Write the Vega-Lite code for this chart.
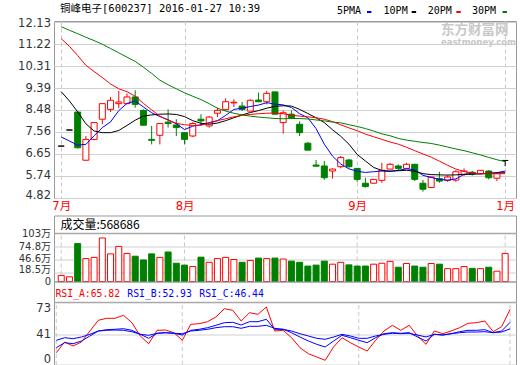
{
  "$schema": "https://vega.github.io/schema/vega-lite/v6.json",
  "background": "#ffffff",
  "padding": {"left": 17, "top": 3, "right": 0, "bottom": 0},
  "bounds": "flush",
  "spacing": 17.5,
  "config": {
    "view": {"stroke": "#999999", "strokeWidth": 1},
    "axis": {"ticks": false, "domain": false, "labelColor": "#333333", "labelFont": "DejaVu Sans", "labelFontSize": 11.5, "labelPadding": 3.5, "labelOverlap": false, "gridColor": "#d0d0d0"}
  },
  "datasets": {
    "k": [
      {"i":0,"o":6.97,"h":6.97,"l":6.97,"c":6.97,"v":13,"m5":7.35,"m10":9.24,"m20":11.45,"m30":11.95,"ra":22.6,"rb":27.6,"rc":35},
      {"i":1,"o":7.64,"h":7.64,"l":7.64,"c":7.64,"v":10,"m5":7.18,"m10":8.85,"m20":11.13,"m30":11.80,"ra":33.3,"rb":32.6,"rc":37.6},
      {"i":2,"o":8.39,"h":8.40,"l":6.87,"c":6.90,"v":81,"m5":7.01,"m10":8.40,"m20":10.75,"m30":11.66,"ra":29.3,"rb":31.6,"rc":36.6},
      {"i":3,"o":6.38,"h":7.39,"l":6.38,"c":7.25,"v":49,"m5":7.04,"m10":7.90,"m20":10.34,"m30":11.51,"ra":33.3,"rb":34.3,"rc":38.3},
      {"i":4,"o":7.25,"h":7.95,"l":7.21,"c":7.95,"v":51.5,"m5":7.40,"m10":7.60,"m20":10.08,"m30":11.37,"ra":44.3,"rb":39.3,"rc":41},
      {"i":5,"o":8.09,"h":8.74,"l":7.88,"c":8.74,"v":93,"m5":7.74,"m10":7.53,"m20":9.83,"m30":11.22,"ra":55,"rb":44.3,"rc":44.3},
      {"i":6,"o":8.50,"h":9.02,"l":8.39,"c":8.88,"v":59,"m5":7.98,"m10":7.53,"m20":9.56,"m30":11.04,"ra":57,"rb":45.6,"rc":45},
      {"i":7,"o":8.74,"h":9.27,"l":8.55,"c":8.81,"v":75,"m5":8.45,"m10":7.62,"m20":9.36,"m30":10.86,"ra":57,"rb":46,"rc":45.3},
      {"i":8,"o":8.74,"h":9.16,"l":8.72,"c":9.02,"v":60,"m5":8.75,"m10":7.83,"m20":9.24,"m30":10.68,"ra":60,"rb":46.6,"rc":45},
      {"i":9,"o":9.02,"h":9.30,"l":8.57,"c":8.71,"v":54,"m5":8.85,"m10":8.05,"m20":9.05,"m30":10.50,"ra":52.6,"rb":45,"rc":43.6},
      {"i":10,"o":8.46,"h":8.50,"l":7.84,"c":7.84,"v":46,"m5":8.60,"m10":8.22,"m20":8.75,"m30":10.26,"ra":39.3,"rb":41,"rc":41},
      {"i":11,"o":7.25,"h":7.81,"l":7.04,"c":7.21,"v":59,"m5":8.36,"m10":8.27,"m20":8.48,"m30":10.00,"ra":31.6,"rb":37,"rc":40},
      {"i":12,"o":7.42,"h":7.93,"l":7.04,"c":7.91,"v":51.5,"m5":8.20,"m10":8.30,"m20":8.22,"m30":9.72,"ra":45,"rb":42,"rc":42},
      {"i":13,"o":7.97,"h":8.50,"l":7.74,"c":7.91,"v":63,"m5":8.07,"m10":8.31,"m20":8.05,"m30":9.53,"ra":45.3,"rb":42.6,"rc":42.6},
      {"i":14,"o":7.85,"h":8.09,"l":7.39,"c":7.74,"v":39,"m5":7.90,"m10":8.29,"m20":7.92,"m30":9.36,"ra":42.6,"rb":42,"rc":42},
      {"i":15,"o":7.53,"h":7.55,"l":7.04,"c":7.25,"v":35,"m5":7.66,"m10":8.20,"m20":7.86,"m30":9.19,"ra":35,"rb":40.3,"rc":41.6},
      {"i":16,"o":7.39,"h":7.97,"l":7.35,"c":7.91,"v":32,"m5":7.80,"m10":8.03,"m20":7.83,"m30":9.05,"ra":51,"rb":45,"rc":44.3},
      {"i":17,"o":8.09,"h":8.30,"l":7.84,"c":8.02,"v":52,"m5":7.86,"m10":7.92,"m20":7.84,"m30":8.91,"ra":51.6,"rb":46,"rc":45},
      {"i":18,"o":7.81,"h":8.23,"l":7.74,"c":8.18,"v":41,"m5":7.95,"m10":7.88,"m20":7.92,"m30":8.74,"ra":53.6,"rb":47.6,"rc":46},
      {"i":19,"o":8.34,"h":8.57,"l":8.18,"c":8.46,"v":49,"m5":8.03,"m10":7.93,"m20":8.03,"m30":8.55,"ra":58.3,"rb":50,"rc":47.6},
      {"i":20,"o":8.49,"h":8.96,"l":8.45,"c":8.82,"v":51.5,"m5":8.25,"m10":8.03,"m20":8.11,"m30":8.43,"ra":66.6,"rb":52.6,"rc":48.6},
      {"i":21,"o":8.77,"h":8.92,"l":8.60,"c":8.80,"v":47,"m5":8.50,"m10":8.15,"m20":8.19,"m30":8.34,"ra":65,"rb":53,"rc":48.6},
      {"i":22,"o":8.64,"h":8.81,"l":8.43,"c":8.50,"v":41,"m5":8.55,"m10":8.27,"m20":8.25,"m30":8.27,"ra":54.3,"rb":50.3,"rc":47},
      {"i":23,"o":8.43,"h":8.92,"l":8.43,"c":8.88,"v":45,"m5":8.62,"m10":8.37,"m20":8.29,"m30":8.22,"ra":62.6,"rb":53.6,"rc":49},
      {"i":24,"o":8.89,"h":9.20,"l":8.80,"c":8.82,"v":50,"m5":8.68,"m10":8.45,"m20":8.32,"m30":8.18,"ra":61,"rb":53.6,"rc":49},
      {"i":25,"o":8.82,"h":9.27,"l":8.71,"c":9.17,"v":49,"m5":8.78,"m10":8.55,"m20":8.34,"m30":8.15,"ra":68.3,"rb":56,"rc":50},
      {"i":26,"o":9.23,"h":9.23,"l":8.30,"c":8.30,"v":50,"m5":8.72,"m10":8.63,"m20":8.35,"m30":8.12,"ra":44.3,"rb":46,"rc":47},
      {"i":27,"o":7.95,"h":8.46,"l":7.49,"c":8.36,"v":48,"m5":8.69,"m10":8.65,"m20":8.32,"m30":8.11,"ra":45,"rb":46,"rc":46},
      {"i":28,"o":8.30,"h":8.46,"l":8.09,"c":8.15,"v":43.5,"m5":8.58,"m10":8.64,"m20":8.26,"m30":8.12,"ra":37.6,"rb":42.6,"rc":44.3},
      {"i":29,"o":7.88,"h":8.00,"l":7.39,"c":7.53,"v":41,"m5":8.32,"m10":8.50,"m20":8.22,"m30":8.12,"ra":27.6,"rb":38.3,"rc":41.6},
      {"i":30,"o":7.09,"h":7.14,"l":6.80,"c":6.80,"v":33,"m5":8.15,"m10":8.33,"m20":8.19,"m30":8.10,"ra":21.6,"rb":34.3,"rc":39.3},
      {"i":31,"o":6.18,"h":6.39,"l":6.13,"c":6.13,"v":35,"m5":7.70,"m10":8.15,"m20":8.15,"m30":8.06,"ra":18.3,"rb":31,"rc":37},
      {"i":32,"o":6.14,"h":6.35,"l":5.56,"c":5.65,"v":43.5,"m5":7.05,"m10":7.95,"m20":8.09,"m30":8.02,"ra":15,"rb":28.3,"rc":36},
      {"i":33,"o":5.93,"h":6.04,"l":5.61,"c":6.01,"v":37,"m5":6.55,"m10":7.65,"m20":7.99,"m30":7.97,"ra":28.3,"rb":34.3,"rc":38.3},
      {"i":34,"o":6.11,"h":6.56,"l":6.04,"c":6.49,"v":41,"m5":6.22,"m10":7.38,"m20":7.86,"m30":7.94,"ra":37.6,"rb":40,"rc":41},
      {"i":35,"o":6.39,"h":6.44,"l":6.07,"c":6.11,"v":35.5,"m5":6.02,"m10":7.05,"m20":7.73,"m30":7.86,"ra":32.6,"rb":37.6,"rc":39.3},
      {"i":36,"o":6.04,"h":6.05,"l":5.48,"c":5.58,"v":33,"m5":5.92,"m10":6.62,"m20":7.61,"m30":7.79,"ra":28.3,"rb":35,"rc":37},
      {"i":37,"o":5.42,"h":5.65,"l":5.24,"c":5.28,"v":33,"m5":5.87,"m10":6.35,"m20":7.47,"m30":7.70,"ra":24.3,"rb":32.6,"rc":37},
      {"i":38,"o":5.42,"h":5.60,"l":5.42,"c":5.58,"v":37,"m5":5.90,"m10":6.08,"m20":7.36,"m30":7.60,"ra":35,"rb":37.6,"rc":39.3},
      {"i":39,"o":5.54,"h":6.27,"l":5.44,"c":5.96,"v":39,"m5":5.93,"m10":5.95,"m20":7.25,"m30":7.48,"ra":44.3,"rb":41.6,"rc":41},
      {"i":40,"o":6.01,"h":6.27,"l":6.01,"c":6.21,"v":43,"m5":5.91,"m10":5.93,"m20":7.14,"m30":7.40,"ra":50,"rb":42.6,"rc":42},
      {"i":41,"o":6.14,"h":6.21,"l":5.97,"c":6.04,"v":30.5,"m5":5.96,"m10":5.94,"m20":7.05,"m30":7.29,"ra":45,"rb":42,"rc":41.6},
      {"i":42,"o":6.04,"h":6.27,"l":6.04,"c":6.21,"v":38.5,"m5":6.02,"m10":5.96,"m20":6.92,"m30":7.22,"ra":50,"rb":42.6,"rc":42},
      {"i":43,"o":6.21,"h":6.23,"l":5.51,"c":5.58,"v":33,"m5":5.98,"m10":5.92,"m20":6.78,"m30":7.17,"ra":39.3,"rb":38.3,"rc":40.3},
      {"i":44,"o":5.42,"h":5.56,"l":5.07,"c":5.17,"v":30.5,"m5":5.75,"m10":5.82,"m20":6.64,"m30":7.12,"ra":31,"rb":34.3,"rc":38.3},
      {"i":45,"o":5.24,"h":5.70,"l":5.22,"c":5.68,"v":38.5,"m5":5.66,"m10":5.78,"m20":6.51,"m30":7.08,"ra":44.3,"rb":41,"rc":41},
      {"i":46,"o":5.61,"h":5.90,"l":5.44,"c":5.51,"v":37,"m5":5.58,"m10":5.77,"m20":6.34,"m30":7.01,"ra":41.6,"rb":40.3,"rc":40.3},
      {"i":47,"o":5.54,"h":5.75,"l":5.48,"c":5.68,"v":27.5,"m5":5.55,"m10":5.76,"m20":6.17,"m30":6.93,"ra":44.3,"rb":41.6,"rc":41.6},
      {"i":48,"o":5.55,"h":5.96,"l":5.48,"c":5.90,"v":27.5,"m5":5.60,"m10":5.77,"m20":6.01,"m30":6.85,"ra":47.6,"rb":43.6,"rc":42.6},
      {"i":49,"o":5.79,"h":6.04,"l":5.72,"c":5.93,"v":32,"m5":5.79,"m10":5.79,"m20":5.91,"m30":6.78,"ra":52,"rb":45,"rc":43.3},
      {"i":50,"o":5.88,"h":5.93,"l":5.74,"c":5.80,"v":28,"m5":5.82,"m10":5.80,"m20":5.84,"m30":6.69,"ra":52.6,"rb":45,"rc":43.3},
      {"i":51,"o":5.82,"h":5.96,"l":5.82,"c":5.96,"v":27.5,"m5":5.82,"m10":5.81,"m20":5.82,"m30":6.60,"ra":54.3,"rb":45.6,"rc":43.6},
      {"i":52,"o":5.93,"h":5.97,"l":5.58,"c":5.65,"v":30.5,"m5":5.83,"m10":5.83,"m20":5.82,"m30":6.50,"ra":43.6,"rb":42.6,"rc":42.6},
      {"i":53,"o":5.63,"h":5.86,"l":5.51,"c":5.82,"v":22,"m5":5.86,"m10":5.85,"m20":5.82,"m30":6.40,"ra":48.6,"rb":44.3,"rc":43.3},
      {"i":54,"o":6.37,"h":6.37,"l":6.13,"c":6.37,"v":60,"m5":5.93,"m10":5.86,"m20":5.82,"m30":6.32,"ra":65.82,"rb":52.93,"rc":46.44}
    ],
    "m": [{"i":0},{"i":15},{"i":36},{"i":54}],
    "one": [{}]
  },
  "vconcat": [
    {
      "width": 462,
      "height": 177,
      "layer": [
        {
          "data": {"name": "k"},
          "mark": {"type": "rule", "strokeWidth": 1},
          "encoding": {
            "x": {"field": "i", "type": "quantitative", "scale": {"domain": [-0.27, 54.71], "nice": false, "zero": false},
                  "axis": {"title": null, "values": [0, 15, 36, 54], "tickCount": 50, "labelExpr": "datum.value == 0 ? '7月' : datum.value == 15 ? '8月' : datum.value == 36 ? '9月' : '1月'", "labelColor": "#ff0000", "labelFont": "DejaVu Sans, Noto Sans CJK SC", "labelFontSize": 11.5, "labelPadding": 2, "labelFlush": false, "labelOverlap": false, "grid": true, "gridDash": [4, 3], "gridColor": "#c8c8c8"}},
            "y": {"field": "l", "type": "quantitative", "scale": {"domain": [4.804, 12.188], "nice": false, "zero": false},
                  "axis": {"title": null, "values": [4.82, 5.74, 6.65, 7.56, 8.48, 9.39, 10.31, 11.22, 12.13], "tickCount": 50, "format": ".2f", "grid": true, "labelOverlap": false,
                           "labelOffset": {"condition": [{"test": "datum.value < 5", "value": -2.5}, {"test": "datum.value > 12", "value": 1.2}], "value": 0}}},
            "y2": {"field": "h"},
            "stroke": {"condition": [{"test": "datum.c > datum.o", "value": "#ff0000"}, {"test": "datum.c < datum.o", "value": "#008000"}], "value": "#000000"}
          }
        },
        {
          "data": {"name": "one"},
          "mark": {"type": "text", "align": "left", "baseline": "middle", "font": "Noto Sans CJK SC", "fontSize": 13.5, "fontWeight": "bold", "color": "#c8c8c8"},
          "encoding": {"x": {"datum": 46.2}, "y": {"datum": 11.83}, "text": {"value": "东方财富网"}}
        },
        {
          "data": {"name": "one"},
          "mark": {"type": "text", "align": "left", "baseline": "middle", "font": "DejaVu Sans", "fontSize": 8.5, "fontWeight": "bold", "color": "#c8c8c8"},
          "encoding": {"x": {"datum": 46.2}, "y": {"datum": 11.32}, "text": {"value": "eastmoney.com"}}
        },
        {
          "data": {"name": "k"},
          "mark": {"type": "bar", "size": 6, "strokeWidth": 1},
          "encoding": {
            "x": {"field": "i", "type": "quantitative", "scale": {"domain": [-0.27, 54.71], "nice": false, "zero": false}},
            "y": {"field": "o", "type": "quantitative", "scale": {"domain": [4.804, 12.188], "nice": false, "zero": false}},
            "y2": {"field": "c"},
            "fill": {"condition": [{"test": "datum.c > datum.o", "value": "#ffffff"}, {"test": "datum.c < datum.o", "value": "#008000"}], "value": "#000000"},
            "stroke": {"condition": [{"test": "datum.c > datum.o", "value": "#ff0000"}, {"test": "datum.c < datum.o", "value": "#008000"}], "value": "#000000"}
          }
        },
        {
          "data": {"name": "k"},
          "transform": [{"fold": ["m5", "m10", "m20", "m30"], "as": ["k", "val"]}],
          "mark": {"type": "line", "strokeWidth": 1},
          "encoding": {
            "x": {"field": "i", "type": "quantitative", "scale": {"domain": [-0.27, 54.71], "nice": false, "zero": false}},
            "y": {"field": "val", "type": "quantitative", "scale": {"domain": [4.804, 12.188], "nice": false, "zero": false}},
            "color": {"field": "k", "type": "nominal",
                      "scale": {"domain": ["m5", "m10", "m20", "m30"], "range": ["#0000ff", "#000000", "#ff0000", "#008000"]},
                      "legend": null}
          }
        },
        {"data": {"name": "one"}, "mark": {"type": "text", "align": "left", "baseline": "middle", "font": "DejaVu Sans Mono, Noto Sans CJK SC", "fontSize": 10.5, "color": "#000000"},
         "encoding": {"x": {"datum": -0.15}, "y": {"datum": 12.689}, "text": {"value": "铜峰电子[600237] 2016-01-27 10:39"}}},
        {"data": {"name": "one"}, "mark": {"type": "text", "align": "left", "baseline": "middle", "font": "DejaVu Sans Mono", "fontSize": 10, "color": "#000000"},
         "encoding": {"x": {"datum": 33.54}, "y": {"datum": 12.606}, "text": {"value": "5PMA"}}},
        {"data": {"name": "one"}, "mark": {"type": "text", "align": "left", "baseline": "middle", "font": "DejaVu Sans Mono", "fontSize": 10, "color": "#000000"},
         "encoding": {"x": {"datum": 39.21}, "y": {"datum": 12.606}, "text": {"value": "10PM"}}},
        {"data": {"name": "one"}, "mark": {"type": "text", "align": "left", "baseline": "middle", "font": "DejaVu Sans Mono", "fontSize": 10, "color": "#000000"},
         "encoding": {"x": {"datum": 44.57}, "y": {"datum": 12.606}, "text": {"value": "20PM"}}},
        {"data": {"name": "one"}, "mark": {"type": "text", "align": "left", "baseline": "middle", "font": "DejaVu Sans Mono", "fontSize": 10, "color": "#000000"},
         "encoding": {"x": {"datum": 49.96}, "y": {"datum": 12.606}, "text": {"value": "30PM"}}},
        {"data": {"name": "one"}, "mark": {"type": "point", "shape": "M-1,-0.45H1V0.45H-1Z", "size": 20, "filled": true, "opacity": 1, "color": "#0000ff"},
         "encoding": {"x": {"datum": 37.46}, "y": {"datum": 12.564}}},
        {"data": {"name": "one"}, "mark": {"type": "point", "shape": "M-1,-0.45H1V0.45H-1Z", "size": 20, "filled": true, "opacity": 1, "color": "#000000"},
         "encoding": {"x": {"datum": 42.9}, "y": {"datum": 12.564}}},
        {"data": {"name": "one"}, "mark": {"type": "point", "shape": "M-1,-0.45H1V0.45H-1Z", "size": 20, "filled": true, "opacity": 1, "color": "#ff0000"},
         "encoding": {"x": {"datum": 48.33}, "y": {"datum": 12.564}}},
        {"data": {"name": "one"}, "mark": {"type": "point", "shape": "M-1,-0.45H1V0.45H-1Z", "size": 20, "filled": true, "opacity": 1, "color": "#008000"},
         "encoding": {"x": {"datum": 53.95}, "y": {"datum": 12.564}}}
      ]
    },
    {
      "bounds": "flush",
      "spacing": 0,
      "vconcat": [
        {
          "width": 462,
          "height": 66,
          "layer": [
            {
              "data": {"name": "k"},
              "mark": {"type": "bar", "size": 6, "strokeWidth": 0, "opacity": 0},
              "encoding": {
                "x": {"field": "i", "type": "quantitative", "scale": {"domain": [-0.27, 54.71], "nice": false, "zero": false}, "axis": null},
                "y": {"field": "v", "type": "quantitative", "scale": {"domain": [0, 141], "nice": false},
                      "axis": {"title": null, "values": [0, 18.5, 46.6, 74.8, 103], "tickCount": 50, "format": ".3~r", "labelExpr": "datum.value == 0 ? '0' : datum.label + '万'", "labelFont": "DejaVu Sans, Noto Sans CJK SC", "labelFontSize": 10, "labelOverlap": false, "grid": true,
                               "labelOffset": {"condition": [{"test": "datum.value > 10 && datum.value < 20", "value": -3}, {"test": "datum.value > 40 && datum.value < 50", "value": -1}], "value": 0}}}
              }
            },
            {
              "data": {"name": "m"},
              "mark": {"type": "rule", "stroke": "#c8c8c8", "strokeDash": [4, 3]},
              "encoding": {
                "x": {"field": "i", "type": "quantitative", "scale": {"domain": [-0.27, 54.71], "nice": false, "zero": false}, "axis": null},
                "y": {"datum": 0},
                "y2": {"datum": 103}
              }
            },
            {
              "data": {"name": "k"},
              "mark": {"type": "bar", "size": 6, "strokeWidth": 1},
              "encoding": {
                "x": {"field": "i", "type": "quantitative", "scale": {"domain": [-0.27, 54.71], "nice": false, "zero": false}, "axis": null},
                "y": {"field": "v", "type": "quantitative", "scale": {"domain": [0, 141], "nice": false}},
                "fill": {"condition": {"test": "datum.c >= datum.o", "value": "#ffffff"}, "value": "#008000"},
                "stroke": {"condition": {"test": "datum.c >= datum.o", "value": "#ff0000"}, "value": "#008000"}
              }
            },
            {
              "data": {"name": "one"},
              "mark": {"type": "rule", "stroke": "#999999"},
              "encoding": {"y": {"datum": 103}}
            },
            {
              "data": {"name": "one"},
              "mark": {"type": "text", "align": "left", "baseline": "middle", "font": "Noto Sans CJK SC", "fontSize": 12, "color": "#000000"},
              "encoding": {"x": {"datum": -0.1, "axis": null}, "y": {"datum": 120.7}, "text": {"value": "成交量:568686"}}
            }
          ]
        },
        {
          "width": 462,
          "height": 83.5,
          "layer": [
            {
              "data": {"name": "k"},
              "mark": {"type": "line", "color": "#ff0000", "strokeWidth": 1, "opacity": 0},
              "encoding": {
                "x": {"field": "i", "type": "quantitative", "scale": {"domain": [-0.27, 54.71], "nice": false, "zero": false}, "axis": null},
                "y": {"field": "ra", "type": "quantitative", "scale": {"domain": [10.3, 93.8], "nice": false, "zero": false},
                      "axis": {"title": null, "values": [10.4, 41, 73], "tickCount": 50, "labelExpr": "datum.value < 20 ? '0' : datum.label", "grid": true, "labelOverlap": false,
                               "labelBaseline": {"condition": [{"test": "datum.value == 73", "value": "top"}, {"test": "datum.value < 20", "value": "bottom"}], "value": "middle"}}}
              }
            },
            {
              "data": {"name": "m"},
              "mark": {"type": "rule", "stroke": "#c8c8c8", "strokeDash": [4, 3]},
              "encoding": {
                "x": {"field": "i", "type": "quantitative", "scale": {"domain": [-0.27, 54.71], "nice": false, "zero": false}, "axis": null},
                "y": {"datum": 10.3},
                "y2": {"datum": 73}
              }
            },
            {
              "data": {"name": "k"},
              "mark": {"type": "line", "color": "#ff0000", "strokeWidth": 1},
              "encoding": {
                "x": {"field": "i", "type": "quantitative", "scale": {"domain": [-0.27, 54.71], "nice": false, "zero": false}, "axis": null},
                "y": {"field": "ra", "type": "quantitative", "scale": {"domain": [10.3, 93.8], "nice": false, "zero": false}}
              }
            },
            {
              "data": {"name": "k"},
              "mark": {"type": "line", "color": "#0000ff", "strokeWidth": 1},
              "encoding": {
                "x": {"field": "i", "type": "quantitative", "scale": {"domain": [-0.27, 54.71], "nice": false, "zero": false}, "axis": null},
                "y": {"field": "rb", "type": "quantitative", "scale": {"domain": [10.3, 93.8], "nice": false, "zero": false}}
              }
            },
            {
              "data": {"name": "k"},
              "mark": {"type": "line", "color": "#0000ff", "strokeWidth": 1},
              "encoding": {
                "x": {"field": "i", "type": "quantitative", "scale": {"domain": [-0.27, 54.71], "nice": false, "zero": false}, "axis": null},
                "y": {"field": "rc", "type": "quantitative", "scale": {"domain": [10.3, 93.8], "nice": false, "zero": false}}
              }
            },
            {
              "data": {"name": "one"},
              "mark": {"type": "rule", "stroke": "#999999"},
              "encoding": {"y": {"datum": 73}}
            },
            {
              "data": {"name": "one"},
              "mark": {"type": "text", "align": "left", "baseline": "middle", "font": "DejaVu Sans Mono", "fontSize": 9.75, "color": "#ff0000"},
              "encoding": {"x": {"datum": -0.1, "axis": null}, "y": {"datum": 81}, "text": {"value": "RSI_A:65.82"}}
            },
            {
              "data": {"name": "one"},
              "mark": {"type": "text", "align": "left", "baseline": "middle", "font": "DejaVu Sans Mono", "fontSize": 9.75, "color": "#0000ff"},
              "encoding": {"x": {"datum": 8.45, "axis": null}, "y": {"datum": 81}, "text": {"value": "RSI_B:52.93"}}
            },
            {
              "data": {"name": "one"},
              "mark": {"type": "text", "align": "left", "baseline": "middle", "font": "DejaVu Sans Mono", "fontSize": 9.75, "color": "#0000ff"},
              "encoding": {"x": {"datum": 17.02, "axis": null}, "y": {"datum": 81}, "text": {"value": "RSI_C:46.44"}}
            }
          ]
        }
      ]
    }
  ]
}
